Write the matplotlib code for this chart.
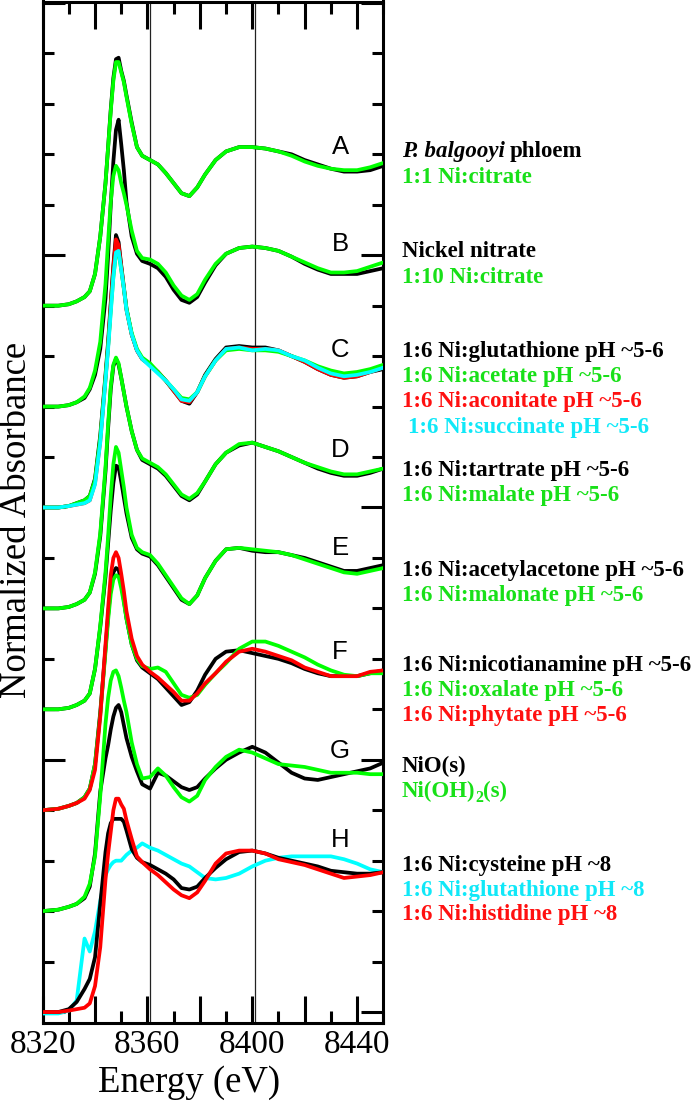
import matplotlib
matplotlib.use("Agg")
import matplotlib.pyplot as plt
from matplotlib.ticker import MultipleLocator, FuncFormatter

plt.rcParams['font.family'] = ['Liberation Serif', 'DejaVu Serif']

# ---------------- data (normalized absorbance) ----------------
energy = [8320, 8326, 8330, 8333, 8336, 8338, 8340, 8342, 8344, 8345, 8346, 8347, 8348,
          8349, 8350, 8351, 8352, 8354, 8356, 8358, 8361, 8364, 8367, 8370, 8373, 8376,
          8379, 8382, 8386, 8390, 8395, 8400, 8405, 8410, 8415, 8420, 8425, 8430, 8435,
          8440, 8445, 8450]

a_phloem = [0.00, 0.00, 0.01, 0.03, 0.06, 0.10, 0.22, 0.48, 0.85, 1.10, 1.36, 1.58, 1.71,
            1.72, 1.63, 1.56, 1.46, 1.27, 1.10, 1.04, 1.01, 0.98, 0.92, 0.85, 0.78, 0.76,
            0.82, 0.91, 1.01, 1.07, 1.10, 1.10, 1.09, 1.07, 1.05, 1.01, 0.98, 0.95, 0.93,
            0.93, 0.94, 0.97]
a_citrate = [0.00, 0.00, 0.01, 0.03, 0.06, 0.10, 0.22, 0.48, 0.85, 1.10, 1.35, 1.56, 1.69,
             1.69, 1.62, 1.55, 1.45, 1.26, 1.10, 1.04, 1.01, 0.98, 0.92, 0.85, 0.78, 0.76,
             0.82, 0.91, 1.01, 1.07, 1.10, 1.10, 1.09, 1.07, 1.04, 1.00, 0.97, 0.95, 0.94,
             0.94, 0.96, 0.99]

b_nitrate = [0.00, 0.00, 0.01, 0.03, 0.06, 0.12, 0.22, 0.40, 0.75, 1.05, 1.40, 1.70, 1.92,
             1.99, 1.82, 1.64, 1.42, 1.18, 1.06, 1.01, 0.99, 0.96, 0.90, 0.81, 0.74, 0.72,
             0.76, 0.86, 0.98, 1.06, 1.10, 1.11, 1.10, 1.08, 1.04, 0.99, 0.95, 0.92, 0.92,
             0.92, 0.94, 0.96]
b_citrate = [0.00, 0.00, 0.01, 0.03, 0.07, 0.13, 0.25, 0.45, 0.85, 1.15, 1.42, 1.60, 1.67,
             1.64, 1.55, 1.48, 1.40, 1.22, 1.08, 1.03, 1.02, 0.99, 0.93, 0.84, 0.77, 0.74,
             0.78, 0.88, 0.99, 1.06, 1.10, 1.11, 1.10, 1.08, 1.04, 1.00, 0.96, 0.93, 0.93,
             0.94, 0.97, 1.00]

c_glutathione = [0.00, 0.00, 0.01, 0.03, 0.05, 0.08, 0.20, 0.50, 0.92, 1.15, 1.42, 1.68, 1.89,
                 1.84, 1.68, 1.53, 1.38, 1.20, 1.09, 1.03, 0.99, 0.94, 0.88, 0.81, 0.74, 0.72,
                 0.80, 0.92, 1.03, 1.11, 1.12, 1.11, 1.11, 1.09, 1.05, 1.01, 0.96, 0.92, 0.90,
                 0.91, 0.94, 0.96]
c_acetate = [0.00, 0.00, 0.01, 0.03, 0.05, 0.08, 0.19, 0.48, 0.90, 1.12, 1.37, 1.60, 1.76,
             1.77, 1.65, 1.52, 1.38, 1.21, 1.10, 1.04, 1.00, 0.94, 0.88, 0.82, 0.76, 0.75,
             0.80, 0.91, 1.02, 1.09, 1.10, 1.09, 1.09, 1.08, 1.05, 1.02, 0.98, 0.95, 0.93,
             0.94, 0.96, 0.99]
c_aconitate = [0.00, 0.00, 0.01, 0.02, 0.03, 0.05, 0.17, 0.46, 0.89, 1.12, 1.40, 1.66, 1.86,
               1.82, 1.67, 1.52, 1.37, 1.20, 1.09, 1.03, 0.99, 0.94, 0.88, 0.81, 0.74, 0.73,
               0.80, 0.91, 1.02, 1.10, 1.11, 1.10, 1.10, 1.09, 1.05, 1.01, 0.96, 0.92, 0.90,
               0.91, 0.94, 0.97]
c_succinate = [0.00, 0.00, 0.01, 0.02, 0.03, 0.05, 0.16, 0.45, 0.88, 1.10, 1.35, 1.60, 1.77,
               1.78, 1.65, 1.52, 1.37, 1.20, 1.09, 1.03, 0.98, 0.93, 0.88, 0.82, 0.75, 0.74,
               0.80, 0.91, 1.02, 1.10, 1.11, 1.09, 1.10, 1.09, 1.05, 1.02, 0.97, 0.93, 0.91,
               0.92, 0.94, 0.97]

d_tartrate = [0.00, 0.00, 0.01, 0.03, 0.06, 0.11, 0.24, 0.50, 0.95, 1.25, 1.52, 1.68, 1.73,
              1.69, 1.60, 1.50, 1.40, 1.23, 1.10, 1.03, 1.00, 0.97, 0.92, 0.85, 0.78, 0.75,
              0.79, 0.88, 1.00, 1.08, 1.13, 1.15, 1.12, 1.09, 1.05, 1.01, 0.97, 0.94, 0.92,
              0.92, 0.94, 0.97]
d_malate = [0.00, 0.00, 0.01, 0.03, 0.06, 0.11, 0.25, 0.52, 0.98, 1.28, 1.54, 1.69, 1.74,
            1.70, 1.60, 1.50, 1.40, 1.23, 1.10, 1.04, 1.01, 0.98, 0.93, 0.86, 0.79, 0.76,
            0.80, 0.88, 1.00, 1.08, 1.14, 1.15, 1.12, 1.09, 1.05, 1.01, 0.98, 0.95, 0.93,
            0.93, 0.95, 0.97]

e_acetylacetone = [0.00, 0.00, 0.01, 0.03, 0.06, 0.11, 0.28, 0.57, 0.92, 1.15, 1.38, 1.57, 1.69,
                   1.68, 1.58, 1.47, 1.36, 1.19, 1.11, 1.08, 1.06, 1.00, 0.92, 0.84, 0.76, 0.73,
                   0.79, 0.91, 1.03, 1.11, 1.12, 1.10, 1.09, 1.09, 1.07, 1.05, 1.02, 0.99, 0.96,
                   0.96, 0.98, 1.00]
e_malonate = [0.00, 0.00, 0.01, 0.03, 0.06, 0.11, 0.28, 0.58, 0.95, 1.20, 1.48, 1.70, 1.82,
              1.78, 1.66, 1.54, 1.40, 1.21, 1.12, 1.09, 1.07, 1.01, 0.93, 0.85, 0.77, 0.73,
              0.79, 0.91, 1.03, 1.11, 1.12, 1.11, 1.10, 1.09, 1.07, 1.04, 1.01, 0.98, 0.95,
              0.94, 0.96, 0.98]

f_nicotianamine = [0.00, 0.01, 0.03, 0.05, 0.09, 0.15, 0.32, 0.68, 1.12, 1.35, 1.55, 1.65, 1.68,
                   1.67, 1.58, 1.46, 1.33, 1.15, 1.04, 0.99, 0.95, 0.91, 0.85, 0.79, 0.73, 0.75,
                   0.83, 0.94, 1.05, 1.10, 1.11, 1.09, 1.07, 1.05, 1.02, 0.98, 0.95, 0.93, 0.93,
                   0.93, 0.95, 0.97]
f_oxalate = [0.00, 0.01, 0.03, 0.05, 0.09, 0.15, 0.32, 0.66, 1.10, 1.32, 1.50, 1.60, 1.63,
             1.62, 1.54, 1.44, 1.33, 1.15, 1.05, 1.00, 0.98, 0.99, 0.96, 0.88, 0.80, 0.78,
             0.80, 0.87, 0.95, 1.02, 1.12, 1.17, 1.17, 1.14, 1.10, 1.06, 1.01, 0.97, 0.94,
             0.93, 0.95, 0.95]
f_phytate = [0.00, 0.01, 0.03, 0.05, 0.08, 0.14, 0.28, 0.65, 1.15, 1.40, 1.63, 1.75, 1.79,
             1.75, 1.64, 1.52, 1.38, 1.19, 1.07, 1.01, 0.96, 0.92, 0.87, 0.82, 0.76, 0.76,
             0.81, 0.88, 0.95, 1.03, 1.10, 1.12, 1.10, 1.07, 1.04, 0.99, 0.96, 0.93, 0.93,
             0.93, 0.96, 0.97]

g_nio = [0.00, 0.01, 0.03, 0.05, 0.09, 0.17, 0.40, 0.83, 1.06, 1.15, 1.26, 1.35, 1.41,
         1.43, 1.38, 1.29, 1.20, 1.07, 0.97, 0.88, 0.85, 0.96, 0.94, 0.90, 0.86, 0.84,
         0.86, 0.92, 0.99, 1.05, 1.10, 1.14, 1.10, 1.03, 0.96, 0.92, 0.91, 0.93, 0.95,
         0.97, 0.99, 1.03]
g_nioh2 = [0.00, 0.01, 0.03, 0.05, 0.10, 0.19, 0.38, 0.80, 1.30, 1.48, 1.60, 1.66, 1.67,
           1.63, 1.55, 1.46, 1.38, 1.17, 1.02, 0.92, 0.93, 0.99, 0.94, 0.86, 0.79, 0.76,
           0.80, 0.91, 1.00, 1.07, 1.12, 1.10, 1.06, 1.02, 1.01, 1.00, 0.98, 0.96, 0.96,
           0.96, 0.95, 0.95]

h_cysteine = [0.00, 0.00, 0.02, 0.07, 0.16, 0.23, 0.38, 0.75, 1.11, 1.24, 1.31, 1.34, 1.34,
              1.34, 1.34, 1.32, 1.26, 1.13, 1.07, 1.04, 1.02, 0.99, 0.96, 0.92, 0.86, 0.85,
              0.87, 0.93, 1.00, 1.06, 1.11, 1.12, 1.10, 1.07, 1.05, 1.03, 1.01, 0.98, 0.97,
              0.96, 0.96, 0.97]
h_glutathione = [-0.01, -0.01, 0.01, 0.08, 0.51, 0.42, 0.56, 0.77, 0.95, 0.99, 1.02, 1.04, 1.05,
                 1.05, 1.05, 1.07, 1.09, 1.12, 1.14, 1.17, 1.14, 1.12, 1.09, 1.06, 1.03, 1.01,
                 0.97, 0.93, 0.92, 0.93, 0.96, 1.01, 1.05, 1.07, 1.08, 1.08, 1.08, 1.08, 1.06,
                 1.03, 0.99, 0.97]
h_histidine = [0.00, 0.00, 0.01, 0.02, 0.03, 0.06, 0.18, 0.45, 0.92, 1.10, 1.25, 1.40, 1.48,
               1.48, 1.44, 1.41, 1.33, 1.20, 1.08, 1.04, 0.99, 0.95, 0.90, 0.85, 0.81, 0.79,
               0.83, 0.91, 1.03, 1.10, 1.12, 1.12, 1.10, 1.06, 1.04, 1.02, 0.99, 0.96, 0.93,
               0.94, 0.95, 0.97]

panel_letters = ["A", "B", "C", "D", "E", "F", "G", "H"]
vline_energies = [8361, 8401]

# ---------------- styling ----------------
GREEN = '#00ff00'
RED = '#ff0000'
CYAN = '#00ffff'
BLACK = '#000000'
TGREEN = '#18e018'
TCYAN = '#10e8f8'
TRED = '#ff1010'

groups = [
    [(a_phloem, BLACK), (a_citrate, GREEN)],
    [(b_nitrate, BLACK), (b_citrate, GREEN)],
    [(c_glutathione, BLACK), (c_aconitate, RED), (c_acetate, GREEN), (c_succinate, CYAN)],
    [(d_tartrate, BLACK), (d_malate, GREEN)],
    [(e_acetylacetone, BLACK), (e_malonate, GREEN)],
    [(f_nicotianamine, BLACK), (f_oxalate, GREEN), (f_phytate, RED)],
    [(g_nio, BLACK), (g_nioh2, GREEN)],
    [(h_glutathione, CYAN), (h_cysteine, BLACK), (h_histidine, RED)],
]
label_dy = [1.10, 1.13, 1.09, 1.10, 1.12, 1.10, 1.11, 1.19]
STEP = 0.7

W, H = 697, 1104
fig = plt.figure(figsize=(W / 100, H / 100), dpi=100)
ax = fig.add_axes([42.6 / W, 1 - 1023 / H, (383.3 - 42.6) / W, (1023 - 1.5) / H])

n = len(groups)
z = 3
for gi, grp in enumerate(groups):
    off = (n - 1 - gi) * STEP
    for ys, col in grp:
        ax.plot(energy, [v + off for v in ys], color=col, lw=2.7,
                solid_joinstyle='round', zorder=z)
        z += 0.01
    ax.text(8433.5, off + label_dy[gi], panel_letters[gi], family='Liberation Sans',
            fontsize=18.5, ha='center', va='center', zorder=10)

for xv in vline_energies:
    ax.axvline(xv, color='#222222', lw=0.9, zorder=2)

ax.set_xlim(8320, 8450)
ax.set_ylim(-0.076, 7.01)
ax.xaxis.set_major_locator(MultipleLocator(20))
ax.xaxis.set_minor_locator(MultipleLocator(10))
ax.xaxis.set_major_formatter(FuncFormatter(
    lambda v, p: f"{int(round(v))}" if int(round(v)) % 40 == 0 else ""))
ax.yaxis.set_major_locator(MultipleLocator(1.75))
ax.yaxis.set_minor_locator(MultipleLocator(0.35))
ax.tick_params(axis='both', which='both', direction='in', top=True, right=True,
               width=2.2, color='black')
ax.tick_params(axis='x', which='major', length=19.4, pad=5, labelsize=24)
ax.tick_params(axis='x', which='minor', length=8.6)
ax.tick_params(axis='y', which='major', length=15.8, labelleft=False)
ax.tick_params(axis='y', which='minor', length=7.9)
for s in ax.spines.values():
    s.set_linewidth(2.2)

fig.text(189 / W, 1 - 1083 / H, "Energy (eV)", fontsize=26.5, ha='center', va='center')
fig.text(17 / W, 1 - 520 / H, "Normalized Absorbance", fontsize=26.5, rotation=90,
         ha='center', va='center')

# right-hand legend text
legend_lines = [
    ("1:1 Ni:citrate", TGREEN, 182.7, 0),
    ("Nickel nitrate", BLACK, 256.7, 0),
    ("1:10 Ni:citrate", TGREEN, 282.7, 0),
    ("1:6 Ni:glutathione pH ~5-6", BLACK, 357.3, 0),
    ("1:6 Ni:acetate pH ~5-6", TGREEN, 381.7, 0),
    ("1:6 Ni:aconitate pH ~5-6", TRED, 406.7, 0),
    ("1:6 Ni:succinate pH ~5-6", TCYAN, 432.7, 6.5),
    ("1:6 Ni:tartrate pH ~5-6", BLACK, 476.0, 0),
    ("1:6 Ni:malate pH ~5-6", TGREEN, 500.7, 0),
    ("1:6 Ni:acetylacetone pH ~5-6", BLACK, 576.0, 0),
    ("1:6 Ni:malonate pH ~5-6", TGREEN, 600.7, 0),
    ("1:6 Ni:nicotianamine pH ~5-6", BLACK, 670.7, 0),
    ("1:6 Ni:oxalate pH ~5-6", TGREEN, 696.0, 0),
    ("1:6 Ni:phytate pH ~5-6", TRED, 720.7, 0),
    ("NiO(s)", BLACK, 771.7, 0),
    ("1:6 Ni:cysteine pH ~8", BLACK, 870.7, 0),
    ("1:6 Ni:glutathione pH ~8", TCYAN, 896.0, 0),
    ("1:6 Ni:histidine pH ~8", TRED, 920.0, 0),
]
X0 = 401.7
FS = 16.5
for txt, col, yb, dx in legend_lines:
    fig.text((X0 + dx) / W, 1 - yb / H, txt, color=col, fontsize=FS,
             fontweight='bold', va='baseline', ha='left')

fig.canvas.draw()
r = fig.canvas.get_renderer()
t1 = fig.text(X0 / W, 1 - 157.3 / H, "P. balgooyi", fontsize=FS, fontweight='bold',
              fontstyle='italic', va='baseline', ha='left', color=BLACK)
bb = t1.get_window_extent(r)
fig.text((bb.x1 + 5) / W, 1 - 157.3 / H, "phloem", fontsize=FS, fontweight='bold',
         va='baseline', ha='left', color=BLACK)

t2 = fig.text(X0 / W, 1 - 796.7 / H, "Ni(OH)", fontsize=FS, fontweight='bold',
              va='baseline', ha='left', color=TGREEN)
bb = t2.get_window_extent(r)
t3 = fig.text(bb.x1 / W, 1 - 802.0 / H, "2", fontsize=FS * 0.7, fontweight='bold',
              va='baseline', ha='left', color=TGREEN)
bb = t3.get_window_extent(r)
fig.text(bb.x1 / W, 1 - 796.7 / H, "(s)", fontsize=FS, fontweight='bold',
         va='baseline', ha='left', color=TGREEN)

fig.savefig("out.png", dpi=100)
